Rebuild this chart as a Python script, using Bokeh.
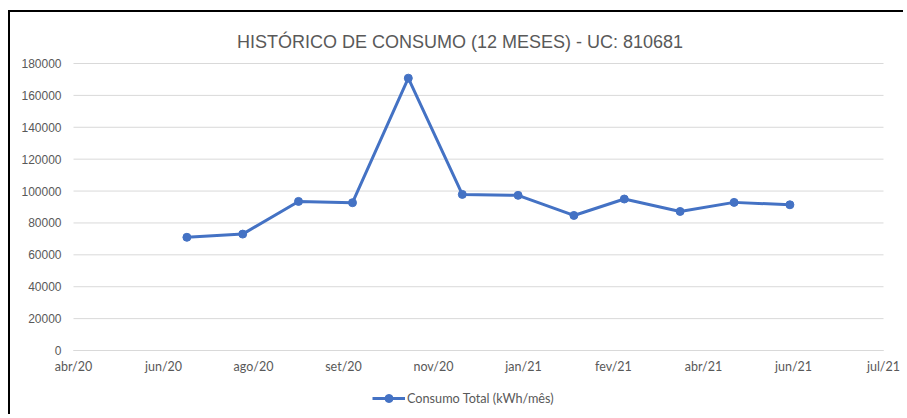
import datetime as dt
from bokeh.plotting import figure
from bokeh.models import (Range1d, FixedTicker, Legend, LegendItem, NumeralTickFormatter, Label)
from bokeh.embed import file_html
from bokeh.resources import INLINE

# ---- data ----
months = ["2020-07-01", "2020-08-01", "2020-09-01", "2020-10-01", "2020-11-01", "2020-12-01",
          "2021-01-01", "2021-02-01", "2021-03-01", "2021-04-01", "2021-05-01", "2021-06-01"]
consumo = [71000, 73000, 93500, 92700, 170800, 97900, 97300, 84700, 95000, 87200, 92900, 91400]
axis_start = "2020-04-29"
tick_step_days = 50
tick_labels = ["abr/20", "jun/20", "ago/20", "set/20", "nov/20", "jan/21",
               "fev/21", "abr/21", "jun/21", "jul/21"]
y_ticks = [0, 20000, 40000, 60000, 80000, 100000, 120000, 140000, 160000, 180000]
y_max = 180000
title_text = "HISTÓRICO  DE CONSUMO (12 MESES) - UC: 810681"
series_name = "Consumo Total (kWh/mês)"

EPOCH = dt.datetime(1970, 1, 1)
def to_ms(d):
    return (d - EPOCH).total_seconds() * 1000.0

xs = [dt.datetime.fromisoformat(m) for m in months]
start = dt.datetime.fromisoformat(axis_start)
tick_ms = [to_ms(start + dt.timedelta(days=tick_step_days * i)) for i in range(len(tick_labels))]
x0_ms, x1_ms = tick_ms[0], tick_ms[-1]

BLUE = "#4472C4"
GRAY = "#595959"
GRID = "#D9D9D9"

# ---- layout (canvas pixels) ----
W, H = 895, 404
AX_LEFT, AX_RIGHT = 63, 873      # where the first / last x tick sit
AX_TOP, AX_ZERO = 51, 338        # where y_max / 0 sit (from canvas top)
ms_per_px = (x1_ms - x0_ms) / (AX_RIGHT - AX_LEFT)
val_per_px = y_max / (AX_ZERO - AX_TOP)
x_range = Range1d(x0_ms - AX_LEFT * ms_per_px, x1_ms + (W - AX_RIGHT) * ms_per_px)
y_range = Range1d(-(H - AX_ZERO) * val_per_px, y_max + AX_TOP * val_per_px)

p = figure(width=W, height=H, x_axis_type="datetime",
           output_backend="svg", toolbar_location=None,
           x_range=x_range, y_range=y_range,
           min_border_left=0, min_border_right=0, min_border_top=0, min_border_bottom=0,
           styles={"border-left": "2px solid black", "border-top": "2px solid black"},
           margin=(10, 0, 0, 8))
p.outline_line_color = None
p.background_fill_color = "white"
p.border_fill_color = "white"

# gridlines (only across the axis extent)
p.segment(x0=[x0_ms] * len(y_ticks), x1=[x1_ms] * len(y_ticks), y0=y_ticks, y1=y_ticks,
          line_color=GRID, line_width=1)
p.xgrid.grid_line_color = None
p.ygrid.grid_line_color = None

# x axis at y = 0
p.xaxis.fixed_location = 0
p.xaxis.bounds = (x0_ms, x1_ms)
p.xaxis.ticker = FixedTicker(ticks=tick_ms)
p.xaxis.major_label_overrides = {t: l for t, l in zip(tick_ms, tick_labels)}
p.xaxis.axis_line_color = GRID
p.xaxis.major_tick_line_color = None
p.xaxis.minor_tick_line_color = None
p.xaxis.major_tick_out = 0
p.xaxis.major_label_standoff = 8
p.xaxis.major_label_text_font = "Lato"
p.xaxis.major_label_text_font_size = "12.5px"
p.xaxis.major_label_text_color = GRAY

# y axis at the first x tick
p.yaxis.fixed_location = x0_ms
p.yaxis.bounds = (0, y_max)
p.yaxis.ticker = FixedTicker(ticks=y_ticks)
p.yaxis.formatter = NumeralTickFormatter(format="0")
p.yaxis.axis_line_color = None
p.yaxis.major_tick_line_color = None
p.yaxis.minor_tick_line_color = None
p.yaxis.major_tick_out = 0
p.yaxis.major_label_standoff = 12
p.yaxis.major_label_text_font = "Liberation Sans"
p.yaxis.major_label_text_font_size = "12px"
p.yaxis.major_label_text_color = GRAY

# series
r_line = p.line(xs, consumo, line_color=BLUE, line_width=3)
r_pts = p.scatter(xs, consumo, size=8, fill_color=BLUE, line_color=BLUE)

# title
p.add_layout(Label(x=226.5, y=H - 29, x_units="screen", y_units="screen", text=title_text,
                   text_align="left", text_baseline="alphabetic",
                   text_font="Liberation Sans", text_font_size="18px", text_color=GRAY))

legend = Legend(items=[LegendItem(label=series_name, renderers=[r_line, r_pts])],
                location=(AX_LEFT + 299, 8), orientation="horizontal",
                glyph_width=33, label_standoff=2, padding=0, margin=0,
                border_line_color=None, background_fill_alpha=0,
                label_text_font="Lato", label_text_font_size="12.7px",
                label_text_color=GRAY)
p.add_layout(legend, "center")

open("out.html", "w").write(file_html(p, INLINE))
